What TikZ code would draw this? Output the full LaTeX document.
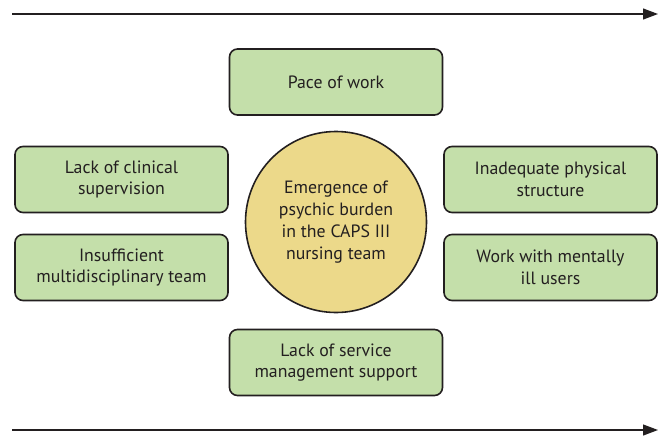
\documentclass[tikz,border=0pt]{standalone}
\usepackage{fontspec}
\setmainfont{PT Sans}
\usetikzlibrary{arrows.meta}
\definecolor{boxgreen}{HTML}{C4DFAA}
\definecolor{circyellow}{HTML}{ECD98A}
\definecolor{ink}{HTML}{231F20}

\begin{document}
\begin{tikzpicture}[x=1pt, y=-1pt,
  factor/.style={draw=ink, line width=1.6pt, fill=boxgreen, rounded corners=8pt,
    minimum width=213pt, minimum height=66pt, align=center, text=ink,
    font=\fontsize{17.8}{21.5}\selectfont},
  burden/.style={circle, draw=ink, line width=1.6pt, fill=circyellow,
    minimum size=181pt, align=center, text=ink, font=\fontsize{17.8}{22}\selectfont},
  timeline/.style={draw=ink, line width=1.2pt, -{Triangle[length=15pt, width=11pt]}}]
\useasboundingbox (0,0) rectangle (662,437);
\coordinate (topstart) at (12,14);
\coordinate (topend) at (658,14);
\coordinate (botstart) at (12,430);
\coordinate (botend) at (658,430);
\draw[timeline] (topstart) -- (topend);
\draw[timeline] (botstart) -- (botend);
\node[burden] (center) at (336,222) {Emergence of\\psychic burden\\in the CAPS III\\nursing team};
\node[factor] (pace) at (336,82) {Pace of work};
\node[factor] (supervision) at (121.5,179.5) {Lack of clinical\\supervision};
\node[factor] (team) at (121.5,267.5) {Insufficient\\multidisciplinary team};
\node[factor] (structure) at (550.5,179.5) {Inadequate physical\\structure};
\node[factor] (users) at (550.5,267.5) {Work with mentally\\ill users};
\node[factor] (management) at (336,362.5) {Lack of service\\management support};
\end{tikzpicture}
\end{document}
